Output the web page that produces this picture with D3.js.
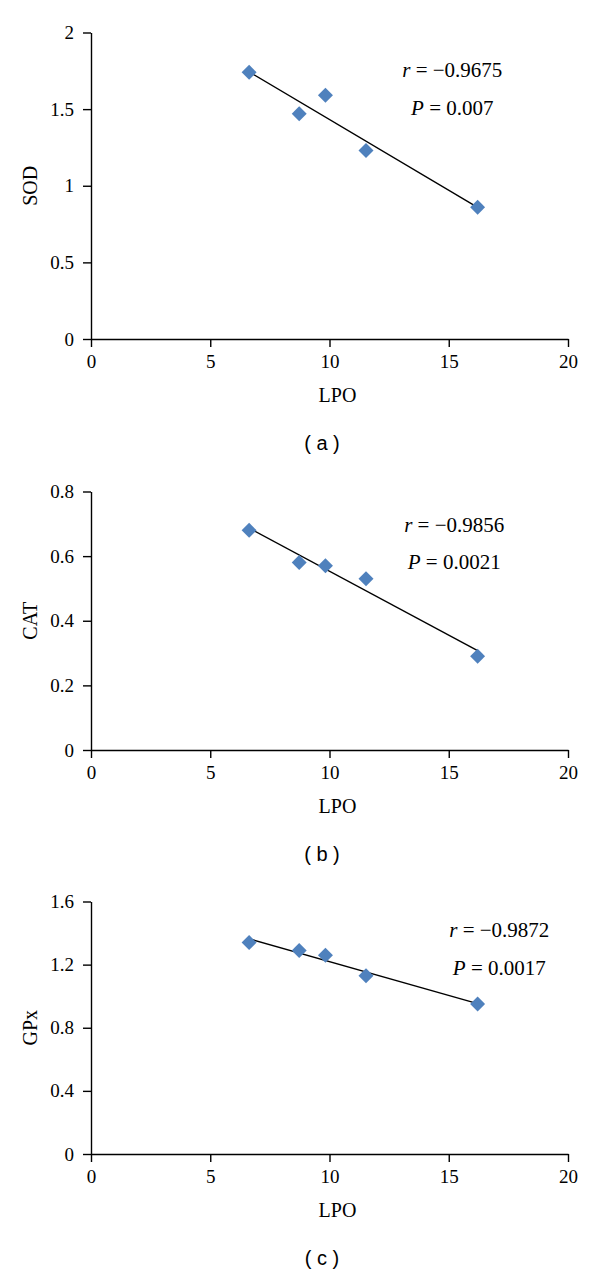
<!DOCTYPE html>
<html>
<head>
<meta charset="utf-8">
<script src="https://cdn.jsdelivr.net/npm/d3@7"></script>
<style>
  body { margin: 0; background: #fff; }
  svg { display: block; }
</style>
</head>
<body>
<svg class="chart" width="600" height="1274"></svg>
<script>
// LPO values shared by all three panels
var lpo = [6.63, 8.73, 9.83, 11.53, 16.21];
var sod = [1.74, 1.47, 1.59, 1.23, 0.86];
var cat = [0.68, 0.58, 0.57, 0.53, 0.29];
var gpx = [1.34, 1.29, 1.26, 1.13, 0.95];

var xTicks = [0, 5, 10, 15, 20];
var sodTicks = [0, 0.5, 1, 1.5, 2];
var catTicks = [0, 0.2, 0.4, 0.6, 0.8];
var gpxTicks = [0, 0.4, 0.8, 1.2, 1.6];

var yLabels = ["SOD", "CAT", "GPx"];
var captions = ["( a )", "( b )", "( c )"];
var rValues = ["\u22120.9675", "\u22120.9856", "\u22120.9872"];
var pValues = ["0.007", "0.0021", "0.0017"];
// where the r / P text sits, in data units [x, yR, yP]
var notePos = [[15.15, 1.76, 1.51], [15.23, 0.697, 0.582], [17.12, 1.42, 1.18]];

var svg = d3.select("svg.chart");
var blue = "#4F81BD";
var serif = "'Liberation Serif', 'Times New Roman', serif";

// pixel frames of the three plots
var frames = [
    {top: 32.5, bottom: 339},
    {top: 491.5, bottom: 750},
    {top: 901.5, bottom: 1154}
];
var left = 91, right = 568;

var panels = [
    {y: sod, ticks: sodTicks},
    {y: cat, ticks: catTicks},
    {y: gpx, ticks: gpxTicks}
];

panels.forEach(function(p, i) {
    var f = frames[i];
    var g = svg.append("g");

    var x = d3.scaleLinear().domain([0, 20]).range([left, right]);
    var y = d3.scaleLinear().domain([0, d3.max(p.ticks)]).range([f.bottom, f.top]);

    var xAxis = g.append("g")
        .attr("transform", "translate(0," + f.bottom + ")")
        .call(d3.axisBottom(x).tickValues(xTicks).tickSize(8).tickSizeOuter(0).tickPadding(8));
    var yAxis = g.append("g")
        .attr("transform", "translate(" + left + ",0)")
        .call(d3.axisLeft(y).tickValues(p.ticks).tickFormat(d3.format("")).tickSize(8).tickSizeOuter(0).tickPadding(9));

    [xAxis, yAxis].forEach(function(a) {
        a.attr("font-family", null).attr("font-size", null);
        a.select(".domain").attr("stroke", "#000").attr("stroke-width", 1.4);
        a.selectAll(".tick line").attr("stroke", "#000").attr("stroke-width", 1.4);
        a.selectAll(".tick text")
            .style("font-family", serif)
            .style("font-size", "19px")
            .attr("fill", "#000");
    });

    // regression line
    var pts = lpo.map(function(v, k) { return [v, p.y[k]]; });
    var mx = d3.mean(lpo), my = d3.mean(p.y);
    var slope = d3.sum(pts, function(d) { return (d[0] - mx) * (d[1] - my); }) /
                d3.sum(lpo, function(v) { return (v - mx) * (v - mx); });
    var x0 = d3.min(lpo), x1 = d3.max(lpo);
    g.append("line")
        .attr("x1", x(x0)).attr("y1", y(my + slope * (x0 - mx)))
        .attr("x2", x(x1)).attr("y2", y(my + slope * (x1 - mx)))
        .attr("stroke", "#000").attr("stroke-width", 1.4);

    g.selectAll("path.pt")
    .data(pts)
    .enter().append("path")
        .attr("class", "pt")
        .attr("d", d3.symbol().type(d3.symbolSquare).size(112))
        .attr("transform", function(d) { return "translate(" + x(d[0]) + "," + y(d[1]) + ") rotate(45)"; })
        .attr("fill", blue);

    // r and P notes
    var np = notePos[i];
    var t1 = g.append("text")
        .attr("x", x(np[0])).attr("y", y(np[1]))
        .attr("dy", "0.35em")
        .attr("text-anchor", "middle")
        .style("font-family", serif).style("font-size", "21px");
    t1.append("tspan").style("font-style", "italic").text("r");
    t1.append("tspan").text(" = " + rValues[i]);

    var t2 = g.append("text")
        .attr("x", x(np[0])).attr("y", y(np[2]))
        .attr("dy", "0.35em")
        .attr("text-anchor", "middle")
        .style("font-family", serif).style("font-size", "21px");
    t2.append("tspan").style("font-style", "italic").text("P");
    t2.append("tspan").text(" = " + pValues[i]);

    // axis titles
    g.append("text")
        .attr("x", (left + right) / 2 + 8).attr("y", f.bottom + 56)
        .attr("dy", "0.35em")
        .attr("text-anchor", "middle")
        .style("font-family", serif).style("font-size", "20px")
        .text("LPO");

    g.append("text")
        .attr("transform", "translate(30," + ((f.top + f.bottom) / 2) + ") rotate(-90)")
        .attr("dy", "0.35em")
        .attr("text-anchor", "middle")
        .style("font-family", serif).style("font-size", "20px")
        .text(yLabels[i]);

    g.append("text")
        .attr("x", 322).attr("y", f.bottom + 104)
        .attr("dy", "0.35em")
        .attr("text-anchor", "middle")
        .style("font-family", "'Liberation Sans', Arial, sans-serif").style("font-size", "20px")
        .text(captions[i]);
});
</script>
</body>
</html>
